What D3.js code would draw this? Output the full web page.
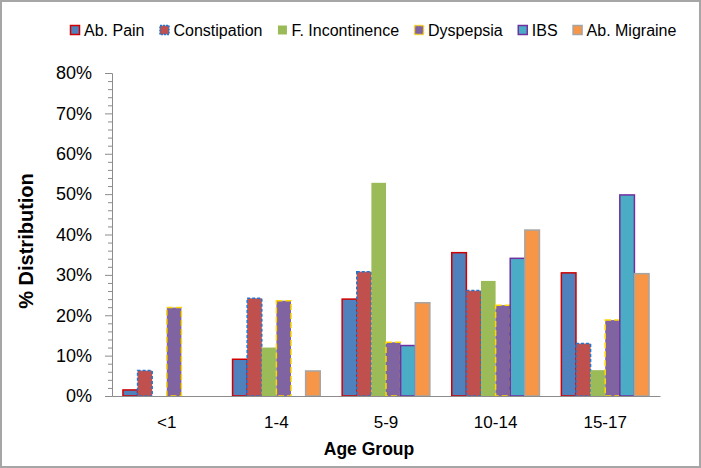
<!DOCTYPE html>
<html>
<head>
<meta charset="utf-8">
<script src="https://cdn.jsdelivr.net/npm/d3@7"></script>
<style>
  body { margin: 0; background: #fff; }
  #chart { width: 701px; height: 468px; }
  text { font-family: "Liberation Sans", Arial, sans-serif; fill: #000; }
</style>
</head>
<body>
<div id="chart"></div>
<script>
// data (percent)
const ageGroups = ["<1", "1-4", "5-9", "10-14", "15-17"];
const seriesNames = ["Ab. Pain", "Constipation", "F. Incontinence", "Dyspepsia", "IBS", "Ab. Migraine"];
const abPain       = [1.5, 9.1, 24.0, 35.5, 30.5];
const constipation = [6.3, 24.2, 30.8, 26.1, 13.0];
const fIncontinence = [0, 12.0, 52.8, 28.5, 6.4];
const dyspepsia    = [21.9, 23.6, 13.3, 22.5, 18.8];
const ibs          = [0, 0, 12.5, 34.1, 49.8];
const abMigraine   = [0, 6.2, 23.1, 41.1, 30.3];
const yTicks = [0, 10, 20, 30, 40, 50, 60, 70, 80];

const seriesValues = [abPain, constipation, fIncontinence, dyspepsia, ibs, abMigraine];

// fill + outline style per series (excel look)
const styles = [
  {fill: "#4F81BD", stroke: "#D00000", dash: null},
  {fill: "#C0504D", stroke: "#1F77D0", dash: "3,2"},
  {fill: "#9BBB59", stroke: "none", dash: null},
  {fill: "#8064A2", stroke: "#FFD700", dash: "6,3"},
  {fill: "#4BACC6", stroke: "#7030A0", dash: null},
  {fill: "#F79646", stroke: "#A5A5A5", dash: null}
];

const W = 701, H = 468;
const margin = {top: 73, right: 41, bottom: 72, left: 112};
const width = W - margin.left - margin.right;
const height = H - margin.top - margin.bottom;

const svg = d3.select("#chart").append("svg")
    .attr("width", W)
    .attr("height", H);

// outer frame
svg.append("rect")
    .attr("x", 1).attr("y", 1)
    .attr("width", W - 2).attr("height", H - 2)
    .attr("fill", "#fff")
    .attr("stroke", "#a6a6a6")
    .attr("stroke-width", 2);

const g = svg.append("g")
    .attr("transform", `translate(${margin.left},${margin.top})`);

const x0 = d3.scaleBand().domain(ageGroups).range([0, width]).padding(0);
const x1 = d3.scaleBand().domain(seriesNames).range([0, x0.bandwidth()])
    .paddingInner(0).paddingOuter(0.75);
const y = d3.scaleLinear().domain([0, 80]).range([height, 0]);

// bars
seriesNames.forEach((name, si) => {
    const st = styles[si];
    g.append("g")
        .selectAll("rect")
        .data(seriesValues[si].map((v, i) => ({group: ageGroups[i], value: v})))
        .enter()
        .filter(d => d.value > 0)
        .append("rect")
        .attr("x", d => x0(d.group) + x1(name))
        .attr("y", d => y(d.value))
        .attr("width", x1.bandwidth())
        .attr("height", d => y(0) - y(d.value))
        .attr("fill", st.fill)
        .attr("stroke", st.stroke)
        .attr("stroke-width", st.stroke === "none" ? 0 : 1.5)
        .attr("stroke-dasharray", st.dash);
});

// y axis, major + minor ticks
const yAxis = g.append("g")
    .call(d3.axisLeft(y).tickValues(yTicks).tickFormat(d => d + "%").tickSize(7).tickPadding(13));
yAxis.select(".domain").attr("stroke", "#8c8c8c");
yAxis.selectAll(".tick line").attr("stroke", "#8c8c8c");
yAxis.selectAll(".tick text").attr("font-size", 18);

const minorTicks = d3.range(0, 81, 2).filter(v => v % 10 !== 0);
g.append("g")
    .selectAll("line")
    .data(minorTicks)
    .enter()
    .append("line")
    .attr("x1", -4).attr("x2", 0)
    .attr("y1", d => y(d) + 0.5).attr("y2", d => y(d) + 0.5)
    .attr("stroke", "#8c8c8c");

// x axis
const xAxis = g.append("g")
    .attr("transform", `translate(0,${height})`)
    .call(d3.axisBottom(x0).tickSize(0).tickPadding(20));
xAxis.select(".domain").attr("stroke", "#8c8c8c");
xAxis.selectAll(".tick text").attr("font-size", 17);

// axis titles
svg.append("text")
    .attr("transform", "translate(33,241) rotate(-90)")
    .attr("text-anchor", "middle")
    .attr("font-size", 20)
    .attr("font-weight", "bold")
    .text("% Distribution");

svg.append("text")
    .attr("x", 369)
    .attr("y", 455)
    .attr("text-anchor", "middle")
    .attr("font-size", 17.5)
    .attr("font-weight", "bold")
    .text("Age Group");

// legend
const legend = svg.append("g").attr("transform", "translate(70,30)");
let lx = 0;
seriesNames.forEach((name, si) => {
    const st = styles[si];
    const item = legend.append("g").attr("transform", `translate(${lx},0)`);
    item.append("rect")
        .attr("x", 0.5).attr("y", -4.5)
        .attr("width", 9).attr("height", 9)
        .attr("fill", st.fill)
        .attr("stroke", st.stroke)
        .attr("stroke-width", st.stroke === "none" ? 0 : 1.5)
        .attr("stroke-dasharray", st.dash ? "2,1" : null);
    const t = item.append("text")
        .attr("x", 14).attr("y", 5.5)
        .attr("font-size", 16)
        .text(name);
    lx += 14 + t.node().getComputedTextLength() + 15;
});
</script>
</body>
</html>
